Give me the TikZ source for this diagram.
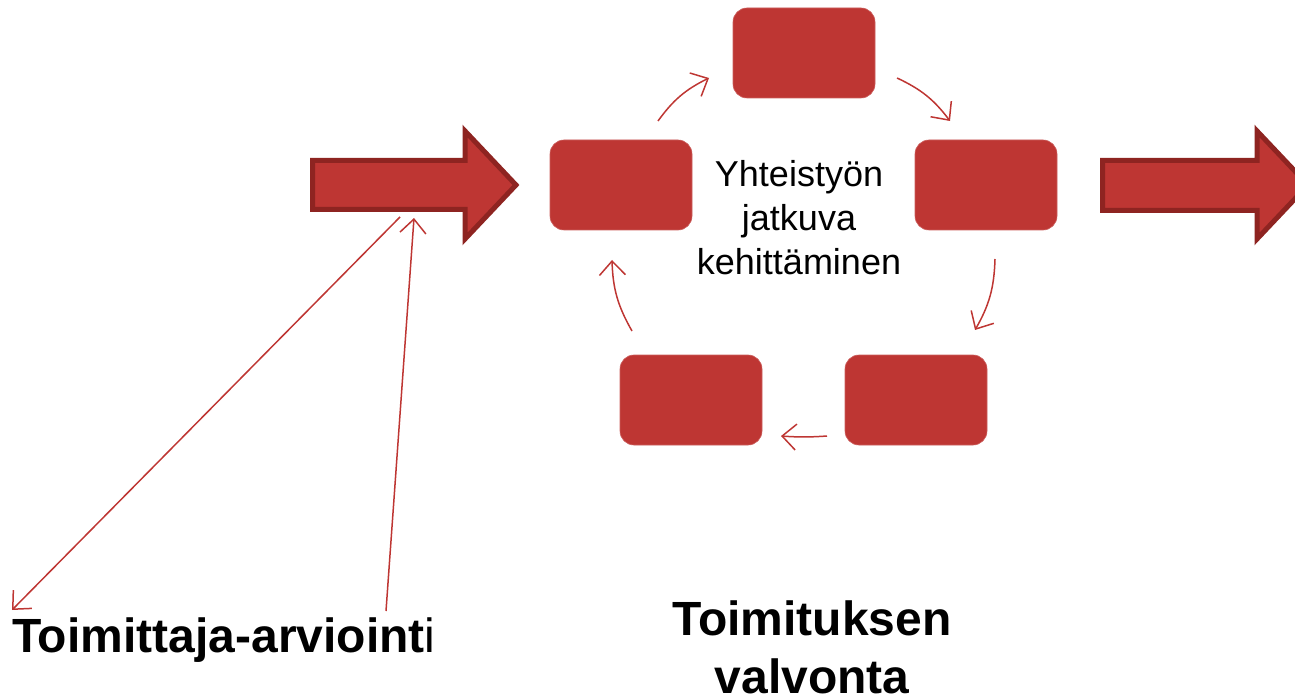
\documentclass[tikz,border=0pt]{standalone}
\usepackage{fontspec}
\setmainfont{Liberation Sans}
\usetikzlibrary{arrows.meta}
\definecolor{boxred}{RGB}{190,54,51}
\definecolor{darkred}{RGB}{142,36,33}
\tikzset{
  cyclebox/.style={draw=boxred!80!white, line width=0.6pt, fill=boxred, rounded corners=14pt, minimum width=142pt, minimum height=90pt, inner sep=0pt},
  bigarrow/.style={draw=darkred, fill=boxred, line width=5pt, line join=miter},
  thinarrow/.style={draw=boxred, line width=1.5pt, -{Straight Barb[length=14pt,width=26pt,line width=1.5pt]}},
  bigtext/.style={font=\fontsize{48}{57.6}\selectfont\bfseries, inner sep=0pt},
  midtext/.style={font=\fontsize{36}{44}\selectfont, align=center, inner sep=0pt}
}
\begin{document}
\begin{tikzpicture}[x=1pt,y=-1pt]
\useasboundingbox (0,0) rectangle (1295,700);
% big block arrows
\draw[bigarrow] (312.5,160.5) -- (465,160.5) -- (465,131) -- (516,185) -- (465,239) -- (465,209.5) -- (312.5,209.5) -- cycle;
\draw[bigarrow] (1102.5,160.5) -- (1257,160.5) -- (1257,131) -- (1308,185) -- (1257,239) -- (1257,210.5) -- (1102.5,210.5) -- cycle;
% cycle boxes
\node[cyclebox] (top) at (804,53) {};
\node[cyclebox] (left) at (621,185) {};
\node[cyclebox] (right) at (986,185) {};
\node[cyclebox] (bl) at (691,400) {};
\node[cyclebox] (br) at (916,400) {};
% centre text (base anchor = baseline of last line)
\node[midtext, anchor=base] (mid) at (799,275) {Yhteistyön\\jatkuva\\kehittäminen};
% cycle arrows
\coordinate (a1s) at (658,121);
\coordinate (a1e) at (709,78);
\coordinate (a2s) at (897,78);
\coordinate (a2e) at (950,121);
\coordinate (a3s) at (995,259);
\coordinate (a3e) at (975,330);
\coordinate (a4s) at (827,436);
\coordinate (a4e) at (781,436);
\coordinate (a5s) at (632,331);
\coordinate (a5e) at (612,260);
\draw[thinarrow] (a1s) to[bend left=14] (a1e);
\draw[thinarrow] (a2s) to[bend left=14] (a2e);
\draw[thinarrow] (a3s) to[bend left=14] (a3e);
\draw[thinarrow] (a4s) to[bend left=4] (a4e);
\draw[thinarrow] (a5s) to[bend left=14] (a5e);
% bottom texts
\node[bigtext, anchor=base west] (eval) at (12,652) {Toimittaja-arvioint\mdseries i};
\node[bigtext, anchor=base, align=center, font=\fontsize{48}{58}\selectfont\bfseries] (deliv) at (812,693) {Toimituksen\\valvonta};
% long connectors
\coordinate (l1s) at (400,217);
\coordinate (l1e) at (12,610);
\coordinate (l2s) at (386,611);
\coordinate (l2e) at (414,218);
\draw[thinarrow] (l1s) -- (l1e);
\draw[thinarrow] (l2s) -- (l2e);
\end{tikzpicture}
\end{document}
